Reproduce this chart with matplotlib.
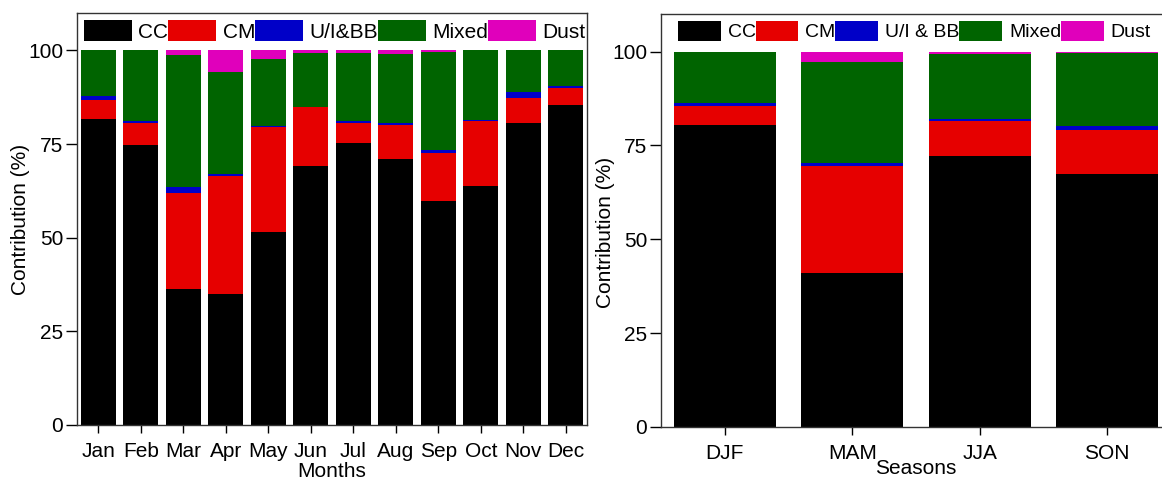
import matplotlib
matplotlib.use("Agg")
import matplotlib.pyplot as plt
import numpy as np

plt.rcParams["font.family"] = ["Liberation Sans", "DejaVu Sans"]
plt.rcParams["font.size"] = 15

months = ["Jan", "Feb", "Mar", "Apr", "May", "Jun", "Jul", "Aug", "Sep", "Oct", "Nov", "Dec"]
seasons = ["DJF", "MAM", "JJA", "SON"]

# monthly contributions (%)
m_cc = [81.6, 74.8, 36.2, 35.0, 51.5, 69.1, 75.4, 71.1, 59.9, 63.7, 80.7, 85.5]
m_cm = [5.3, 5.9, 25.7, 31.5, 28.0, 15.7, 5.2, 8.9, 12.6, 17.4, 6.6, 4.5]
m_ui = [1.0, 0.5, 1.6, 0.4, 0.4, 0.1, 0.6, 0.5, 0.9, 0.3, 1.6, 0.4]
m_mixed = [12.1, 18.8, 35.4, 27.3, 17.8, 14.4, 18.1, 18.6, 26.1, 18.6, 11.1, 9.6]
m_dust = [0.0, 0.0, 1.1, 5.8, 2.3, 0.7, 0.7, 0.9, 0.5, 0.0, 0.0, 0.0]

# seasonal contributions (%)
s_cc = [80.5, 40.9, 72.1, 67.3]
s_cm = [4.9, 28.7, 9.5, 11.9]
s_ui = [0.8, 0.7, 0.5, 1.1]
s_mixed = [13.8, 26.9, 17.2, 19.4]
s_dust = [0.0, 2.8, 0.7, 0.3]

colors = ["#000000", "#e60000", "#0000c8", "#006400", "#e000bb"]


def stacked(ax, labels, series, names, width):
    x = np.arange(len(labels))
    bottom = np.zeros(len(labels))
    for vals, name, c in zip(series, names, colors):
        ax.bar(x, vals, width, bottom=bottom, color=c, label=name, linewidth=0)
        bottom += np.array(vals)
    ax.set_xticks(x)
    ax.set_xticklabels(labels)
    ax.set_xlim(-0.5, len(labels) - 0.5)
    ax.set_ylim(0, 110)
    ax.set_yticks([0, 25, 50, 75, 100])
    ax.set_ylabel("Contribution (%)")
    ax.tick_params(axis="y", direction="out", length=8, width=1, pad=2)
    ax.tick_params(axis="x", direction="out", length=6, width=1, pad=6)
    for s in ax.spines.values():
        s.set_linewidth(1)
        s.set_color("#333333")


fig = plt.figure(figsize=(11.62, 4.83), dpi=100)
ax1 = fig.add_axes([77 / 1162, 58 / 483, 510 / 1162, 412 / 483])
ax2 = fig.add_axes([661 / 1162, 56 / 483, 510 / 1162, 413 / 483])

stacked(ax1, months, [m_cc, m_cm, m_ui, m_mixed, m_dust],
        ["CC", "CM", "U/I&BB", "Mixed", "Dust"], 0.82)
stacked(ax2, seasons, [s_cc, s_cm, s_ui, s_mixed, s_dust],
        ["CC", "CM", "U/I & BB", "Mixed", "Dust"], 0.8)

ax1.set_xlabel("Months", labelpad=1)
ax2.set_xlabel("Seasons", labelpad=-3)
ax1.yaxis.set_label_coords(-0.093, 0.5)
ax2.yaxis.set_label_coords(-0.09, 0.47)

ax1.legend(loc="upper left", bbox_to_anchor=(0.0, 1.0), ncol=5, frameon=False,
           handlelength=2.3, handleheight=1.15, handletextpad=0.3,
           columnspacing=0.0, borderaxespad=0.15, borderpad=0.2)
ax2.legend(loc="upper left", bbox_to_anchor=(0.02, 1.0), ncol=5, frameon=False,
           fontsize=14, handlelength=2.2, handleheight=1.2, handletextpad=0.35,
           columnspacing=0.0, borderaxespad=0.15, borderpad=0.2)

fig.savefig("out.png", dpi=100)
